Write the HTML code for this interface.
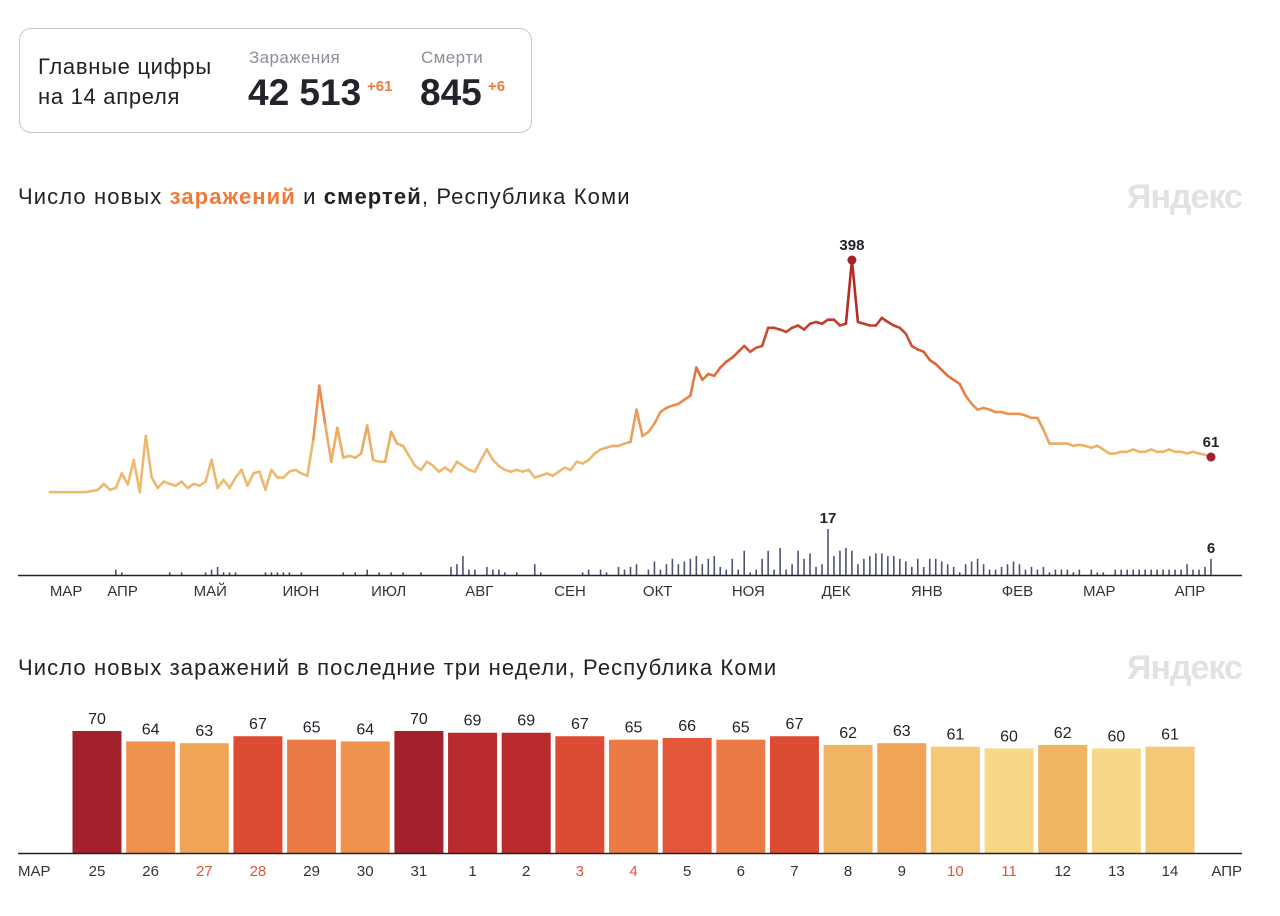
<!DOCTYPE html>
<html><head><meta charset="utf-8"><style>
body{margin:0;width:1280px;height:916px;background:#fff;font-family:"Liberation Sans","DejaVu Sans",sans-serif;color:#222;overflow:hidden;position:relative}
.abs{position:absolute;white-space:nowrap}
</style></head><body>
<div class="abs" style="left:19px;top:28px;width:511px;height:103px;border:1px solid #c8c8cc;border-radius:12px"></div>
<div class="abs" style="left:38px;top:52px;font-size:22px;line-height:30px;color:#222;letter-spacing:0.7px">Главные цифры<br>на 14 апреля</div>
<div class="abs" style="left:249px;top:48px;font-size:17px;color:#8a8f99;letter-spacing:0.4px">Заражения</div>
<div class="abs" style="left:248px;top:72px;font-size:37px;font-weight:bold;color:#22232b">42 513</div>
<div class="abs" style="left:367px;top:78px;font-size:15px;font-weight:bold;color:#ef7a3a">+61</div>
<div class="abs" style="left:421px;top:48px;font-size:17px;color:#8a8f99;letter-spacing:0.4px">Смерти</div>
<div class="abs" style="left:420px;top:72px;font-size:37px;font-weight:bold;color:#22232b">845</div>
<div class="abs" style="left:488px;top:78px;font-size:15px;font-weight:bold;color:#ef7a3a">+6</div>

<div class="abs" style="left:18px;top:184px;font-size:22px;letter-spacing:1.1px;color:#222">Число новых <b style="color:#ef7a3a">заражений</b> и <b>смертей</b>, Республика Коми</div>
<div class="abs" style="left:1127px;top:178px;font-size:34px;font-weight:bold;color:#e2e2e2;letter-spacing:-1px">Яндекс</div>
<div class="abs" style="left:18px;top:655px;font-size:22px;letter-spacing:1.1px;color:#222">Число новых заражений в последние три недели, Республика Коми</div>
<div class="abs" style="left:1127px;top:649px;font-size:34px;font-weight:bold;color:#e2e2e2;letter-spacing:-1px">Яндекс</div>

<svg id="c1" class="abs" style="left:0;top:0" width="1280" height="916"></svg>
<script>
const cases=[1,1,1,1,1,1,1,3,5,15,5,8,33,14,56,1,97,26,8,19,15,12,19,8,15,12,19,56,8,22,8,26,39,12,33,36,5,39,26,26,36,39,33,29,91,183,116,53,111,60,63,60,67,115,56,53,53,104,84,80,63,46,39,53,46,36,43,36,53,46,39,36,56,74,56,46,39,36,39,36,39,26,29,33,29,36,43,39,53,50,56,67,74,77,80,80,84,87,142,97,104,118,138,145,149,152,159,166,214,193,203,200,214,224,231,241,251,241,248,251,282,282,279,275,282,286,279,289,292,289,296,296,286,289,398,292,289,286,286,299,292,286,282,272,251,245,241,227,220,210,200,193,186,166,152,142,145,142,138,138,135,135,135,132,128,128,108,84,84,84,84,80,82,80,77,80,74,67,67,70,70,74,70,70,74,70,70,74,70,70,67,70,67,65,61];
const deaths=[0,0,0,0,0,0,0,0,0,0,0,2,1,0,0,0,0,0,0,0,1,0,1,0,0,0,1,2,3,1,1,1,0,0,0,0,1,1,1,1,1,0,1,0,0,0,0,0,0,1,0,1,0,2,0,1,0,1,0,1,0,0,1,0,0,0,0,3,4,7,2,2,0,3,2,2,1,0,1,0,0,4,1,0,0,0,0,0,0,1,2,0,2,1,0,3,2,3,4,0,2,5,2,4,6,4,5,6,7,4,6,7,3,2,6,2,9,1,2,6,9,2,10,2,4,9,6,8,3,4,17,7,9,10,9,4,6,7,8,8,7,7,6,5,3,6,3,6,6,5,4,3,1,4,5,6,4,2,2,3,4,5,4,2,3,2,3,1,2,2,2,1,2,0,2,1,1,0,2,2,2,2,2,2,2,2,2,2,2,2,4,2,2,3,6];
const months=["МАР","АПР","МАЙ","ИЮН","ИЮЛ","АВГ","СЕН","ОКТ","НОЯ","ДЕК","ЯНВ","ФЕВ","МАР","АПР"];
const monthDays=[31,30,31,30,31,31,30,31,30,31,31,28,31,30];
const firstDayOfMarch=-12; // series starts Mar 13
const totalDays=397;
const days=["25","26","27","28","29","30","31","1","2","3","4","5","6","7","8","9","10","11","12","13","14"];
const recent=[70,64,63,67,65,64,70,69,69,67,65,66,65,67,62,63,61,60,62,60,61];
const weekend=[false,false,true,true,false,false,false,false,false,true,true,false,false,false,false,false,true,true,false,false,false];

const svg=document.getElementById('c1');const NS='http://www.w3.org/2000/svg';
function mk(t,a,p){const e=document.createElementNS(NS,t);for(const k in a)e.setAttribute(k,a[k]);(p||svg).appendChild(e);return e;}
const xd=d=>50+d*(1161/totalDays);
const x1=i=>xd(i*totalDays/(cases.length-1));
const y1=v=>492.7-v*0.5846;
const yd=v=>575-v*2.7;
function lerp(a,b,t){return Math.round(a+(b-a)*t);}
function col(v){const t=Math.min(1,Math.max(0,(v-60)/260));const s=[236,185,110],m=[232,120,60],e=[180,45,40];
 let c;if(t<0.5){const u=t*2;c=[0,1,2].map(k=>lerp(s[k],m[k],u));}else{const u=(t-0.5)*2;c=[0,1,2].map(k=>lerp(m[k],e[k],u));}return `rgb(${c})`;}
deaths.forEach((d,i)=>{if(d<=0)return;const r=mk('rect',{x:x1(i)-0.8,y:yd(d),width:1.6,height:575-yd(d),fill:'#4d5273'});

});
for(let i=0;i<cases.length-1;i++){const l=mk('line',{x1:x1(i),y1:y1(cases[i]),x2:x1(i+1),y2:y1(cases[i+1]),stroke:col((cases[i]+cases[i+1])/2),'stroke-width':2.6,'stroke-linecap':'round'});

}
const pk=cases.indexOf(Math.max(...cases));const last=cases.length-1;
[[pk,'peak'],[last,'last']].forEach(([i,n])=>{const c=mk('circle',{cx:x1(i),cy:y1(cases[i]),r:4.5,fill:'#a3202d'});


const t=mk('text',{x:x1(i),y:y1(cases[i])-10,'text-anchor':'middle','font-size':15,'font-weight':'bold',fill:'#22232b'});t.textContent=cases[i];

});
const dk=deaths.indexOf(Math.max(...deaths));
[[dk,'max'],[deaths.length-1,'last']].forEach(([i,n])=>{const t=mk('text',{x:x1(i),y:yd(deaths[i])-6,'text-anchor':'middle','font-size':15,'font-weight':'bold',fill:'#22232b'});t.textContent=deaths[i];

});
const ax=mk('line',{x1:18,y1:575.5,x2:1242,y2:575.5,stroke:'#222','stroke-width':1.5});


let ms=firstDayOfMarch;
months.forEach((m,i)=>{const d=Math.max(ms+5.8,5.5);ms+=monthDays[i];
 const t=mk('text',{x:xd(d),y:596,'text-anchor':'middle','font-size':15,fill:'#333'});t.textContent=m;
 
 });
const bx=i=>97+i*53.65, by=v=>853-v*1.743;
function bcol(v){return {70:'#a3202d',69:'#b82a2c',67:'#dd4b35',66:'#e4563a',65:'#ec7a45',64:'#ef924d',63:'#f0a556',62:'#f0b462',61:'#f4c874',60:'#f6d886'}[v]||'#f0a556';}
recent.forEach((v,i)=>{const r=mk('rect',{x:bx(i)-24.5,y:by(v),width:49,height:853-by(v),fill:bcol(v)});


const t=mk('text',{x:bx(i),y:by(v)-7,'text-anchor':'middle','font-size':16,fill:'#22232b'});t.textContent=v;


const d=mk('text',{x:bx(i),y:876,'text-anchor':'middle','font-size':15,fill:weekend[i]?'#e0553d':'#333'});d.textContent=days[i];

});
const ax2=mk('line',{x1:18,y1:853.5,x2:1242,y2:853.5,stroke:'#222','stroke-width':1.5});


const m1=mk('text',{x:18,y:876,'font-size':15,fill:'#333'});m1.textContent='МАР';


const m2=mk('text',{x:1242,y:876,'font-size':15,fill:'#333','text-anchor':'end'});m2.textContent='АПР';


</script>
</body></html>
